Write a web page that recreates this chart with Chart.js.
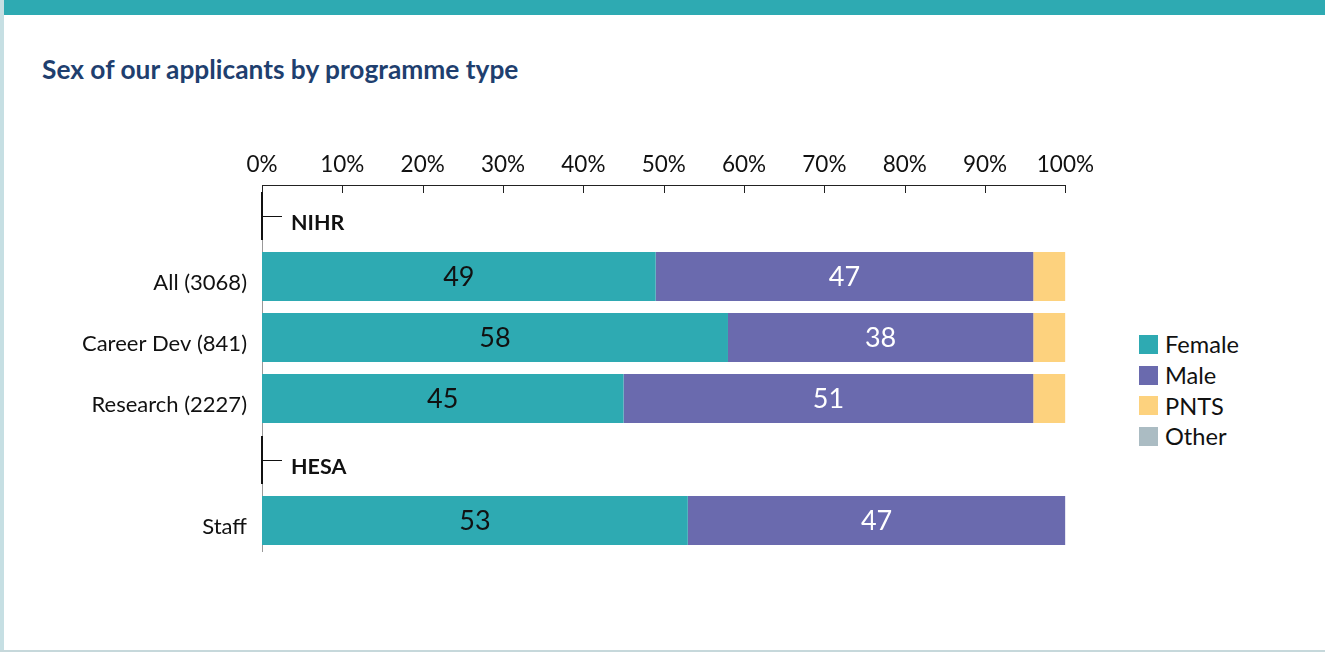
<!DOCTYPE html>
<html>
<head>
<meta charset="utf-8">
<title>Sex of our applicants by programme type</title>
<script src="https://cdn.jsdelivr.net/npm/chart.js@4.4.1/dist/chart.umd.min.js"></script>
<style>
  html, body { margin: 0; padding: 0; background: #fff; }
  body { width: 1325px; height: 652px; position: relative; overflow: hidden; font-family: Lato, sans-serif; }
  #leftBar { position: absolute; left: 0; top: 0; width: 4px; height: 652px; background: #c6dfe3; }
  #topBar { position: absolute; left: 4px; top: 0; right: 0; height: 15px; background: #2eaab2; }
  #bottomLine { position: absolute; left: 0; right: 0; bottom: 0; height: 2px; background: #c6d8db; }
  #title { position: absolute; left: 42px; top: 53px; font: bold 26.3px Lato; color: #1f3f6f; }
  #chartWrap { position: absolute; left: 0; top: 0; width: 1093px; height: 600px; }
  #legend { position: absolute; left: 1139px; top: 329px; }
  .item { display: flex; align-items: center; height: 30.7px; font-size: 23.6px; color: #111; }
  .box { width: 19px; height: 19px; margin-right: 7px; }
</style>
</head>
<body>
<div id="leftBar"></div>
<div id="topBar"></div>
<div id="bottomLine"></div>
<div id="title">Sex of our applicants by programme type</div>
<div id="chartWrap"><canvas id="chart"></canvas></div>
<div id="legend"></div>

<script>
'use strict';

// rows, top to bottom; group headers are rows without bars
const categories   = ['NIHR', 'All (3068)', 'Career Dev (841)', 'Research (2227)', 'HESA', 'Staff'];
const groupHeaders = ['NIHR', 'HESA'];

const seriesNames  = ['Female', 'Male', 'PNTS', 'Other'];
const seriesColors = ['#2eaab2', '#6a6aae', '#fdd27e', '#abbcc3'];

const femaleValues = [null, 49, 58, 45, null, 53];
const maleValues   = [null, 47, 38, 51, null, 47];
const pntsValues   = [null, 4, 4, 4, null, 0];
const otherValues  = [null, 0, 0, 0, null, 0];

const xTicks = [0, 10, 20, 30, 40, 50, 60, 70, 80, 90, 100];

Chart.defaults.font.family = 'Lato';
Chart.defaults.color = '#111';

const decorations = {
  id: 'decorations',
  afterDatasetsDraw(chart) {
    const {ctx, chartArea, scales: {x, y}} = chart;
    ctx.save();

    // numbers inside the bars
    ctx.font = '27px Lato';
    ctx.textAlign = 'center';
    ctx.textBaseline = 'middle';
    chart.data.datasets.forEach((ds, i) => {
      if (!ds.valueColor)
        return;
      chart.getDatasetMeta(i).data.forEach((bar, j) => {
        const v = ds.data[j];
        if (!v)
          return;
        ctx.fillStyle = ds.valueColor;
        ctx.fillText(String(v), (bar.x + bar.base) / 2, bar.y + 1);
      });
    });

    // tick marks hang down from the top axis
    ctx.strokeStyle = '#222';
    ctx.lineWidth = 1;
    x.ticks.forEach(t => {
      const px = Math.round(x.getPixelForValue(t.value)) + 0.5;
      ctx.beginPath();
      ctx.moveTo(px, chartArea.top);
      ctx.lineTo(px, chartArea.top + 8);
      ctx.stroke();
    });

    // group headers
    for (const name of groupHeaders) {
      const cy = Math.round(y.getPixelForValue(categories.indexOf(name)));
      const left = chartArea.left;

      ctx.strokeStyle = '#111';
      ctx.lineWidth = 2;
      ctx.beginPath();
      ctx.moveTo(left, cy - 24);
      ctx.lineTo(left, cy + 24);
      ctx.stroke();

      ctx.lineWidth = 1;
      ctx.beginPath();
      ctx.moveTo(left, cy + 0.5);
      ctx.lineTo(left + 20, cy + 0.5);
      ctx.stroke();

      ctx.font = 'bold 21.5px Lato';
      ctx.fillStyle = '#111';
      ctx.textAlign = 'left';
      ctx.textBaseline = 'middle';
      ctx.fillText(name, left + 29, cy + 7);
    }
    ctx.restore();
  }
};

const datasets = [femaleValues, maleValues, pntsValues, otherValues].map((values, i) => ({
  label: seriesNames[i],
  data: values,
  backgroundColor: seriesColors[i],
  borderWidth: 0,
  categoryPercentage: 1,
  barPercentage: 0.8,
  valueColor: i == 0 ? '#111' : (i == 1 ? '#fff' : null)
}));

const config = {
  type: 'bar',
  data: { labels: categories, datasets: datasets },
  options: {
    indexAxis: 'y',
    responsive: true,
    maintainAspectRatio: false,
    animation: false,
    layout: { padding: { left: 0, top: 0, right: 15, bottom: 49 } },
    plugins: { legend: { display: false }, tooltip: { enabled: false } },
    scales: {
      x: {
        position: 'top',
        stacked: true,
        min: 0,
        max: 100,
        afterBuildTicks: scale => { scale.ticks = xTicks.map(v => ({value: v})); },
        ticks: { font: { size: 22.5 }, color: '#111', padding: -1, callback: v => v + '%' },
        grid: { display: false },
        border: { display: true, color: '#222', width: 1 },
        afterFit: scale => { scale.height = 185; }
      },
      y: {
        stacked: true,
        ticks: {
          font: { size: 22 },
          color: '#111',
          padding: 7,
          labelOffset: 6,
          callback: function (v) {
            const label = this.getLabelForValue(v);
            return groupHeaders.includes(label) ? '' : label;
          }
        },
        grid: { display: false },
        border: { display: true, color: '#999', width: 1 },
        afterFit: scale => { scale.width = 262; }
      }
    }
  },
  plugins: [decorations]
};

new Chart(document.getElementById('chart').getContext('2d'), config);

// legend
const legend = document.getElementById('legend');
seriesNames.forEach((name, i) => {
  const item = document.createElement('div');
  item.className = 'item';
  item.innerHTML = `<span class="box" style="background:${seriesColors[i]}"></span><span>${name}</span>`;
  legend.appendChild(item);
});
</script>
</body>
</html>
